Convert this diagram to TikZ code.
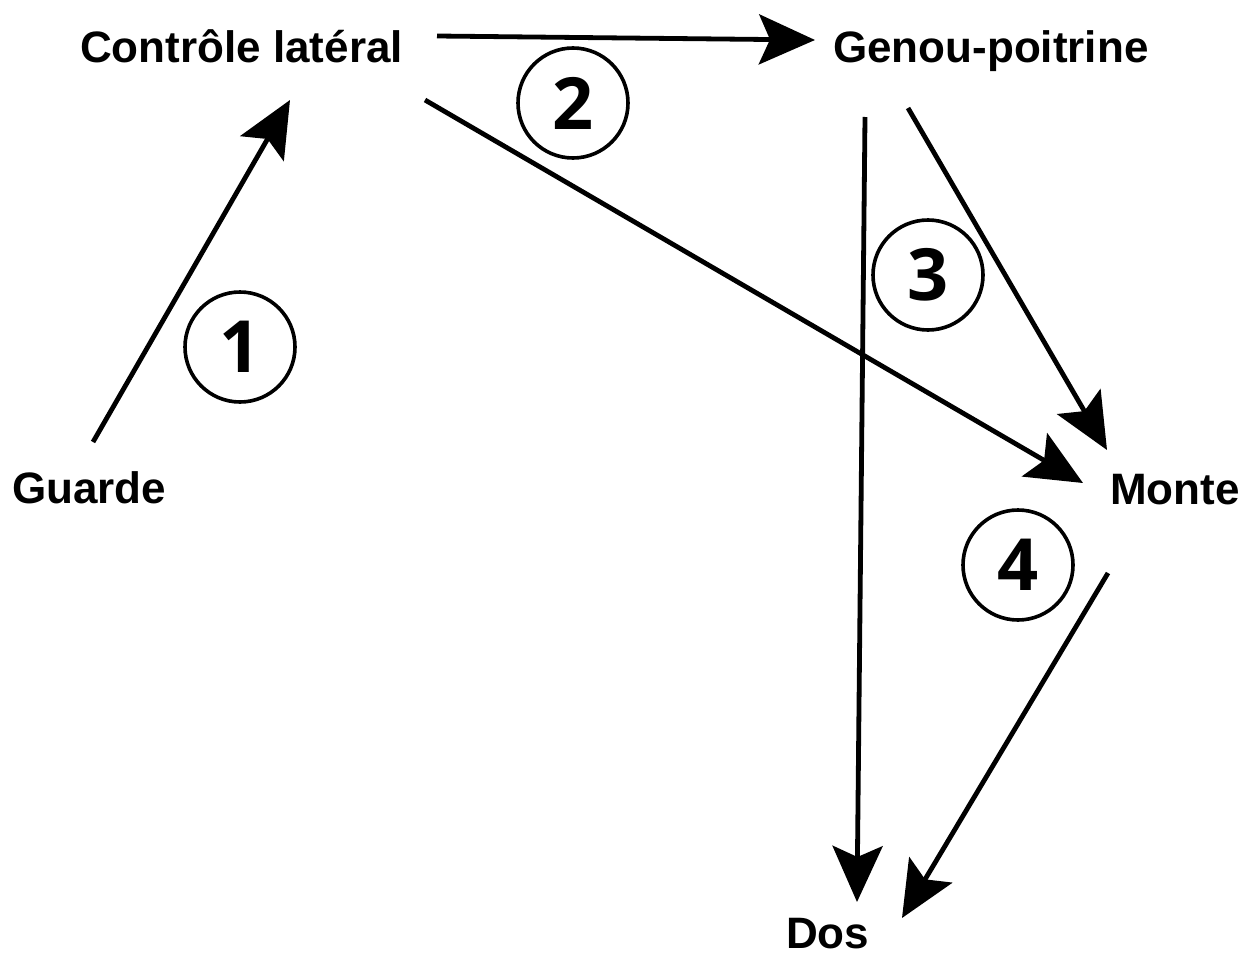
\documentclass[tikz,border=0pt]{standalone}
\usepackage{fontspec}
\setmainfont{Liberation Sans}
\newfontfamily\numfont{Open Sans}
\usetikzlibrary{arrows.meta,calc}
\tikzset{
  lbl/.style={anchor=base west, inner sep=0pt, font=\fontsize{44}{50}\selectfont\bfseries},
  numcirc/.style={circle, draw, line width=3.6pt, minimum size=110pt, inner sep=0pt,
    font=\fontsize{72}{80}\selectfont\numfont\bfseries},
  link/.style={line width=4.8pt, -{Stealth[length=56pt, width=50pt, inset=11pt]}}
}
\begin{document}
\begin{tikzpicture}[x=1pt, y=-1pt]
  \useasboundingbox (0,0) rectangle (1242,958);

  % position labels
  \node[lbl] (ctrl)   at (80,63)   {Contrôle latéral};
  \node[lbl] (genou)  at (833,63)  {Genou-poitrine};
  \node[lbl] (guarde) at (12,503)  {Guarde};
  \node[lbl] (monte)  at (1110,504) {Monte};
  \node[lbl] (dos)    at (786,948) {Dos};

  % step numbers
  \node[numcirc] (s1) at (240,347) {1};
  \node[numcirc] (s2) at (573,103) {2};
  \node[numcirc] (s3) at (928,275) {3};
  \node[numcirc] (s4) at (1018,565) {4};

  % transitions
  \draw[link] ($(guarde.base west)+(81,-61)$) -- ($(ctrl.base west)+(210,37)$);
  \draw[link] ($(ctrl.base west)+(357,-27)$)  -- ($(genou.base west)+(-18,-23)$);
  \draw[link] ($(ctrl.base west)+(345,37)$)   -- ($(monte.base west)+(-27,-21)$);
  \draw[link] ($(genou.base west)+(32,54)$)   -- ($(dos.base west)+(71,-46)$);
  \draw[link] ($(genou.base west)+(75,45)$)   -- ($(monte.base west)+(-3,-54)$);
  \draw[link] ($(monte.base west)+(-2,69)$)   -- ($(dos.base west)+(116,-30)$);
\end{tikzpicture}
\end{document}
